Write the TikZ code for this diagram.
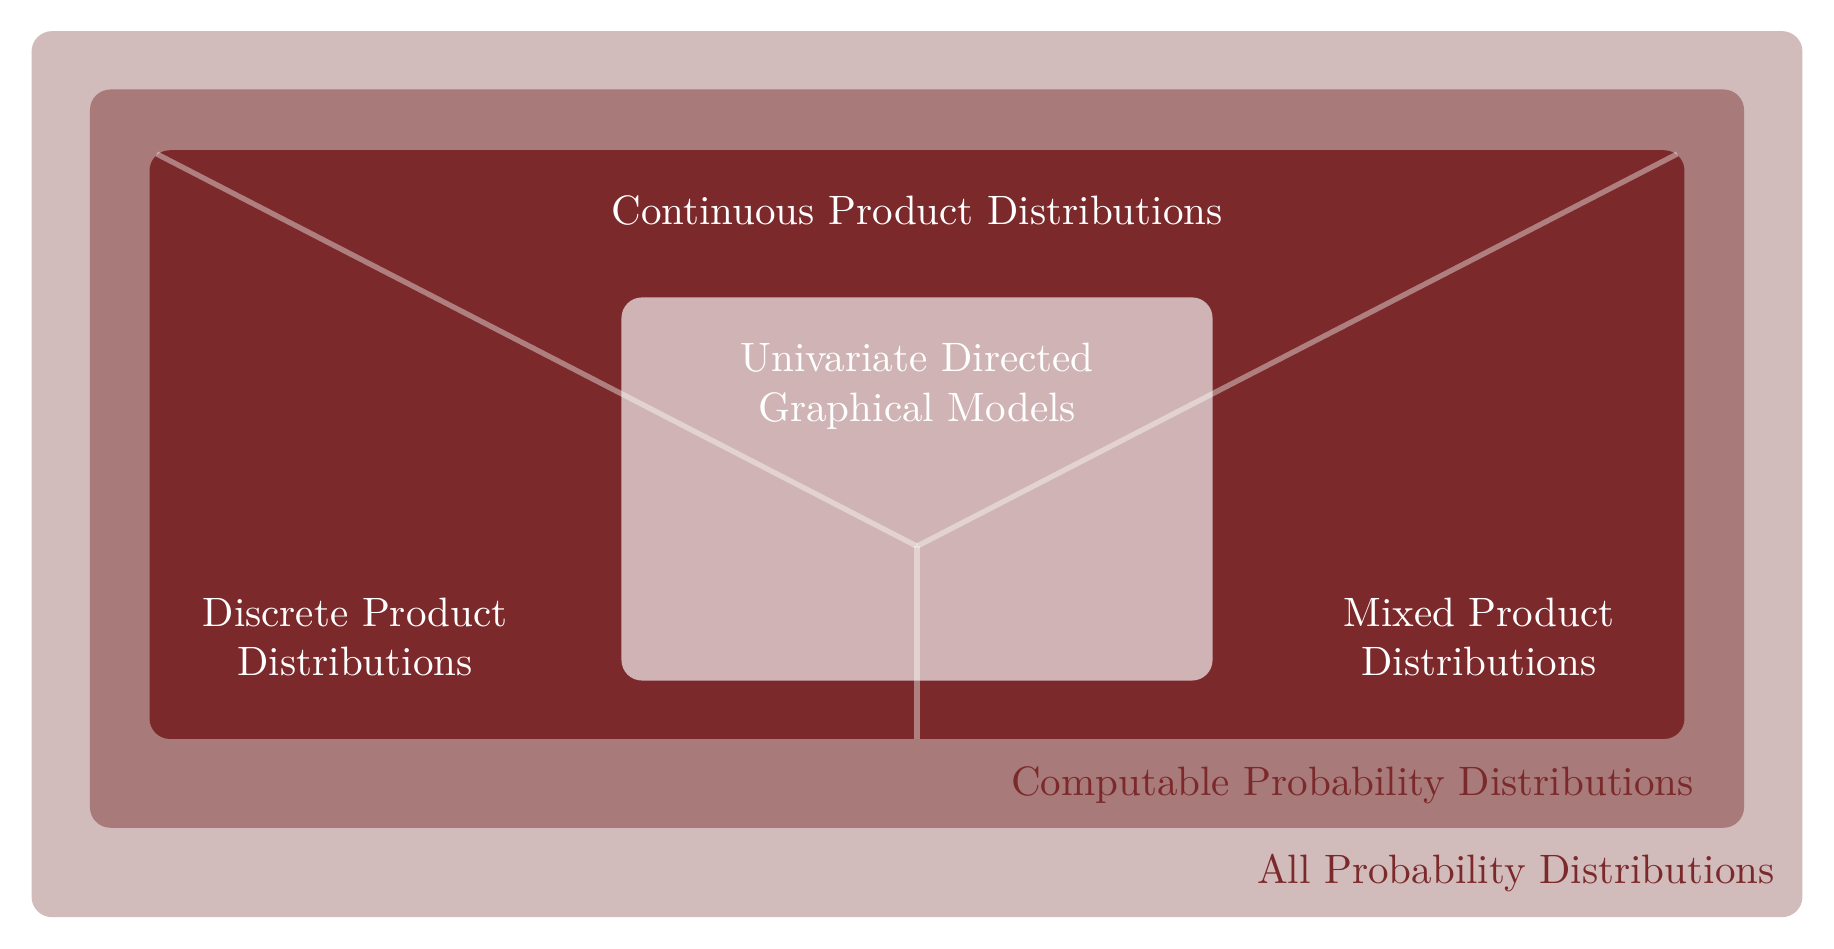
\documentclass[tikz,border=0pt]{standalone}
\usepackage{amsmath}
\usepackage{tikz}

\definecolor{darkred}{RGB}{123,41,43}
\definecolor{midred}{RGB}{168,122,122}
\definecolor{lightred}{RGB}{210,187,187}

\begin{document}
\begin{tikzpicture}
\tikzset{setbox/.style={rounded corners=5pt, inner sep=0pt, outer sep=0pt}}
\tikzset{inlabel/.style={text=white, align=center}}
\tikzset{outlabel/.style={text=darkred, anchor=base east}}
\tikzset{split/.style={draw=white, draw opacity=0.4, line width=1.3pt}}
\useasboundingbox (0,0) rectangle (15.7,8.116);
% nested sets
\node[setbox, fill=lightred, minimum width=15.16cm, minimum height=7.585cm] (all) at (7.85,4.057) {};
\node[setbox, fill=midred, minimum width=14.16cm, minimum height=6.32cm] (comp) at (7.85,4.19) {};
\node[setbox, fill=darkred, minimum width=13.14cm, minimum height=5.04cm] (prod) at (7.85,4.31) {};
\node[setbox, fill=white, fill opacity=0.65, minimum width=5.06cm, minimum height=3.28cm] (udgm) at (7.85,3.93) {};
%\node[draw] at (prod.center) {};
\node[inlabel] (udgmtxt) at (7.85,4.81) {Univariate Directed\\Graphical Models};
\node[inlabel] (cont) at (7.85,6.31) {Continuous Product Distributions};
\node[inlabel] (disc) at (3.04,2.66) {Discrete Product\\Distributions};
\node[inlabel] (mixed) at (12.66,2.66) {Mixed Product\\Distributions};
\node[outlabel] (complbl) at (14.625,1.31) {Computable Probability Distributions};
\node[outlabel] (alllbl) at (15.315,0.556) {All Probability Distributions};
% split of the product distributions
\coordinate (meet) at (7.85,3.44);
\draw[split, shorten <=2pt] (prod.north west) -- (meet);
\draw[split, shorten <=2pt] (prod.north east) -- (meet);
\draw[split] (meet) -- (prod.south);
\end{tikzpicture}
\end{document}
